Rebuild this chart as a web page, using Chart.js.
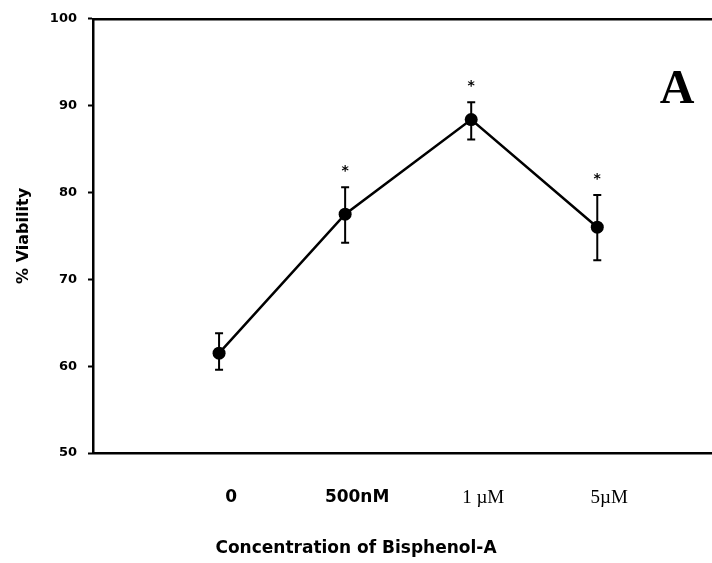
<!DOCTYPE html>
<html>
<head>
<meta charset="utf-8">
<title>% Viability vs Bisphenol-A</title>
<script src="https://cdn.jsdelivr.net/npm/chart.js@4.4.1/dist/chart.umd.min.js"></script>
<style>
  html, body { margin: 0; padding: 0; background: #fff; }
  #wrap { width: 712px; height: 563px; }
</style>
</head>
<body>
<div id="wrap"><canvas id="viabilityChart"></canvas></div>
<script>
// Categories (x) and values
const concentrations = ['0', '500nM', '1 \u00B5M', '5\u00B5M'];
const viability = [61.5, 77.5, 88.4, 76.0];
const errHigh = [63.8, 80.6, 90.4, 79.7];
const errLow = [59.6, 74.2, 86.1, 72.2];
const significant = [false, true, true, true];
const yTicks = [50, 60, 70, 80, 90, 100];

const SANS = '"DejaVu Sans", Arial, sans-serif';
const SERIF = '"Liberation Serif", "Times New Roman", serif';

/**
 * Error bars + asterisks + panel letter
 */
const errorBarPlugin = {
    id: 'errorBars',
    beforeDatasetsDraw(chart) {
        const ctx = chart.ctx;
        const xs = chart.scales.x;
        const ys = chart.scales.y;
        ctx.save();
        ctx.strokeStyle = '#000';
        ctx.lineWidth = 2;
        viability.forEach((v, i) => {
            const x = xs.getPixelForValue(i);
            const yTop = ys.getPixelForValue(errHigh[i]);
            const yBot = ys.getPixelForValue(errLow[i]);
            ctx.beginPath();
            ctx.moveTo(x, yTop); ctx.lineTo(x, yBot);
            ctx.moveTo(x - 4, yTop); ctx.lineTo(x + 4, yTop);
            ctx.moveTo(x - 4, yBot); ctx.lineTo(x + 4, yBot);
            ctx.stroke();
        });
        ctx.restore();
    },
    afterDatasetsDraw(chart) {
        const ctx = chart.ctx;
        const xs = chart.scales.x;
        const ys = chart.scales.y;
        const area = chart.chartArea;
        ctx.save();
        ctx.fillStyle = '#000';
        ctx.textAlign = 'center';
        ctx.textBaseline = 'alphabetic';
        ctx.font = 'bold 14px ' + SANS;
        significant.forEach((s, i) => {
            if (!s) return;
            ctx.fillText('*', xs.getPixelForValue(i), ys.getPixelForValue(errHigh[i]) - 12);
        });
        // panel letter
        ctx.font = 'bold 48px ' + SERIF;
        ctx.fillText('A', area.right - 35, area.top + 84);
        ctx.restore();
    }
};

const ctx = document.getElementById('viabilityChart');
new Chart(ctx, {
    type: 'line',
    data: {
        datasets: [{
            data: viability.map((v, i) => ({ x: i, y: v })),
            borderColor: '#000',
            backgroundColor: '#000',
            borderWidth: 2.5,
            tension: 0,
            pointRadius: 6.5,
            pointBorderWidth: 0,
            pointBackgroundColor: '#000'
        }]
    },
    options: {
        responsive: true,
        maintainAspectRatio: false,
        animation: false,
        layout: { autoPadding: false, padding: { top: 15, left: 0, right: 0, bottom: 0 } },
        plugins: {
            legend: { display: false },
            tooltip: { enabled: false },
            title: {
                display: true,
                position: 'bottom',
                text: 'Concentration of Bisphenol-A',
                color: '#000',
                font: { family: SANS, size: 17, weight: 'bold' },
                padding: { top: 0, bottom: 4 }
            }
        },
        scales: {
            x: {
                type: 'linear',
                min: -1,
                max: 3.91,
                afterBuildTicks: (scale) => {
                    scale.ticks = concentrations.map((c, i) => ({ value: i }));
                },
                afterFit: (scale) => { scale.height = 85.6; },
                grid: { display: true, drawOnChartArea: false, drawTicks: false },
                border: { display: true, color: '#000', width: 2.5 },
                ticks: {
                    autoSkip: false,
                    maxRotation: 0,
                    padding: 34,
                    labelOffset: 12,
                    color: '#000',
                    font: (c) => (c.index >= 2
                        ? { family: SERIF, size: 19 }
                        : { family: SANS, size: 17, weight: 'bold' }),
                    callback: (value) => concentrations[value]
                }
            },
            xTop: {
                type: 'linear',
                position: 'top',
                min: -1,
                max: 3.91,
                afterFit: (scale) => { scale.height = 0; },
                grid: { display: true, drawOnChartArea: false, drawTicks: false },
                border: { display: true, color: '#000', width: 2.5 },
                ticks: { display: false }
            },
            y: {
                min: 50,
                max: 100,
                afterBuildTicks: (scale) => {
                    scale.ticks = yTicks.map(v => ({ value: v }));
                },
                afterFit: (scale) => { scale.width = 93; },
                grid: {
                    display: true,
                    drawOnChartArea: false,
                    drawTicks: true,
                    tickLength: 5,
                    tickWidth: 2,
                    tickColor: '#000'
                },
                border: { display: true, color: '#000', width: 2.5 },
                ticks: {
                    padding: 11,
                    color: '#000',
                    font: { family: SANS, size: 13, weight: 'bold' }
                },
                title: {
                    display: true,
                    text: '% Viability',
                    color: '#000',
                    font: { family: SANS, size: 16, weight: 'bold' },
                    padding: { top: 14, bottom: 0 }
                }
            }
        }
    },
    plugins: [errorBarPlugin]
});
</script>
</body>
</html>
